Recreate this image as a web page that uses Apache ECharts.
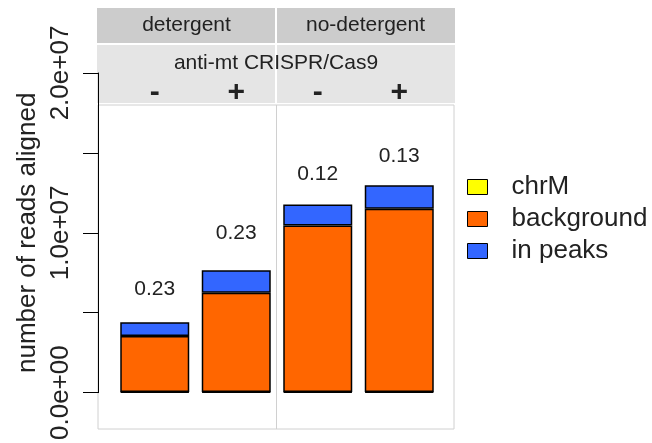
<!DOCTYPE html>
<html>
<head>
<meta charset="utf-8">
<style>
  html, body { margin: 0; padding: 0; background: #fff; }
  #chart { width: 652px; height: 443px; }
</style>
<script src="https://cdn.jsdelivr.net/npm/echarts@6/dist/echarts.min.js"></script>
</head>
<body>
<div id="chart"></div>
<script>
// Facets and treatment for each bar
const facets = ['detergent', 'no-detergent'];
const facetOfBar = ['detergent', 'detergent', 'no-detergent', 'no-detergent'];
const treatment = ['-', '+', '-', '+'];
const treatmentTitle = 'anti-mt CRISPR/Cas9';

// Read counts per library (stacked: chrM, background, in peaks)
const chrM = [40000, 40000, 40000, 40000];
const background = [3500000, 6210000, 10420000, 11460000];
const inPeaks = [870000, 1410000, 1310000, 1480000];

// Fraction of reads in peaks, printed above each bar
const fracLabels = ['0.23', '0.23', '0.12', '0.13'];

// Y axis ticks
const yMin = 0, yMax = 20000000, yStep = 5000000;
const yLabelEvery = 10000000;

const FONT = "'Liberation Sans', Arial, Helvetica, sans-serif";
const INK = '#222222';
const COLORS = { chrM: '#FFFF00', background: '#FF6600', peaks: '#3366FF' };
const labelLift = [22, 27, 20, 18];

const categories = facetOfBar.map((f, i) => f + ' ' + treatment[i]);

function sci(v) {
  if (v === 0) return '0.0e+00';
  const e = Math.floor(Math.log10(Math.abs(v)));
  const m = v / Math.pow(10, e);
  return m.toFixed(1) + 'e' + (e < 0 ? '-' : '+') + String(Math.abs(e)).padStart(2, '0');
}

const chart = echarts.init(document.getElementById('chart'), null, { renderer: 'canvas' });

const barStyle = (c) => ({ color: c, borderColor: '#000', borderWidth: 1.5 });

const option = {
  animation: false,
  textStyle: { fontFamily: FONT, color: INK },
  title: {
    text: treatmentTitle,
    left: 276, top: 53, padding: 0,
    textAlign: 'center',
    textStyle: { fontFamily: FONT, fontSize: 21, fontWeight: 'normal', color: INK }
  },
  legend: {
    orient: 'vertical',
    left: 467, top: 171, padding: 0,
    itemGap: 0,
    itemWidth: 20, itemHeight: 15,
    icon: 'rect',
    data: ['chrM', 'background', 'in peaks'],
    itemStyle: { borderColor: '#000', borderWidth: 1 },
    textStyle: { fontFamily: FONT, fontSize: 26, color: INK, lineHeight: 32, padding: [0, 0, 0, 19] }
  },
  grid: [
    // bars
    { left: 114, right: 212, top: 73, bottom: 50, containLabel: false },
    // panel frame
    { left: 98, right: 198, top: 105, bottom: 14, show: true, borderColor: '#D0D0D0', borderWidth: 1, backgroundColor: 'transparent' },
    // facet strip
    { left: 97, right: 197, top: 8, height: 35, show: true, backgroundColor: '#CCCCCC', borderWidth: 0 },
    // treatment strip
    { left: 97, right: 197, top: 45, height: 58, show: true, backgroundColor: '#E5E5E5', borderWidth: 0 }
  ],
  xAxis: [
    {
      gridIndex: 0, type: 'category', data: categories, position: 'top', offset: -19.5,
      axisLine: { show: false }, axisTick: { show: false }, splitLine: { show: false },
      axisLabel: {
        margin: 0, verticalAlign: 'middle', fontSize: 30, fontWeight: 'bold', color: INK, fontFamily: FONT,
        formatter: (v, i) => treatment[i]
      }
    },
    {
      gridIndex: 1, type: 'category', data: facets,
      axisLine: { show: false }, axisTick: { show: false }, axisLabel: { show: false },
      splitLine: { show: true, showMinLine: false, showMaxLine: false, lineStyle: { color: '#D0D0D0', width: 1 } }
    },
    {
      gridIndex: 2, type: 'category', data: facets, position: 'bottom', offset: -17.5,
      axisLine: { show: false }, axisTick: { show: false },
      axisLabel: { margin: 0, verticalAlign: 'middle', fontSize: 21, color: INK, fontFamily: FONT },
      splitLine: { show: true, showMinLine: false, showMaxLine: false, lineStyle: { color: '#FFFFFF', width: 2 } }
    },
    {
      gridIndex: 3, type: 'category', data: facets,
      axisLine: { show: false }, axisTick: { show: false }, axisLabel: { show: false },
      splitLine: { show: true, showMinLine: false, showMaxLine: false, lineStyle: { color: '#FFFFFF', width: 2 } }
    }
  ],
  yAxis: [
    {
      gridIndex: 0, type: 'value', min: yMin, max: yMax, interval: yStep, offset: 16,
      name: 'number of reads aligned', nameLocation: 'middle', nameGap: 57,
      nameTextStyle: { fontSize: 26, color: INK, fontFamily: FONT },
      axisLine: { show: true, lineStyle: { color: '#000', width: 1 } },
      axisTick: { show: true, length: 15, lineStyle: { color: '#000', width: 1 } },
      splitLine: { show: false },
      axisLabel: {
        rotate: 90, margin: 24, fontSize: 26, color: INK, fontFamily: FONT,
        showMinLabel: true, showMaxLabel: true,
        formatter: (v) => (Math.round(v) % yLabelEvery === 0 ? sci(v) : '')
      }
    },
    { gridIndex: 1, type: 'value', show: false, min: 0, max: 1, splitLine: { show: false } },
    { gridIndex: 2, type: 'value', show: false, min: 0, max: 1, splitLine: { show: false } },
    { gridIndex: 3, type: 'value', show: false, min: 0, max: 1, splitLine: { show: false } }
  ],
  series: [
    {
      name: 'chrM', type: 'bar', stack: 'reads', xAxisIndex: 0, yAxisIndex: 0,
      barWidth: 69, data: chrM, itemStyle: barStyle(COLORS.chrM)
    },
    {
      name: 'background', type: 'bar', stack: 'reads', xAxisIndex: 0, yAxisIndex: 0,
      barWidth: 69, data: background, itemStyle: barStyle(COLORS.background)
    },
    {
      name: 'in peaks', type: 'bar', stack: 'reads', xAxisIndex: 0, yAxisIndex: 0,
      barWidth: 69, itemStyle: barStyle(COLORS.peaks),
      data: inPeaks.map((v, i) => ({
        value: v,
        label: {
          show: true, position: 'top', distance: labelLift[i],
          formatter: fracLabels[i], fontSize: 21, color: INK, fontFamily: FONT
        }
      }))
    }
  ]
};

chart.setOption(option);
</script>
</body>
</html>
